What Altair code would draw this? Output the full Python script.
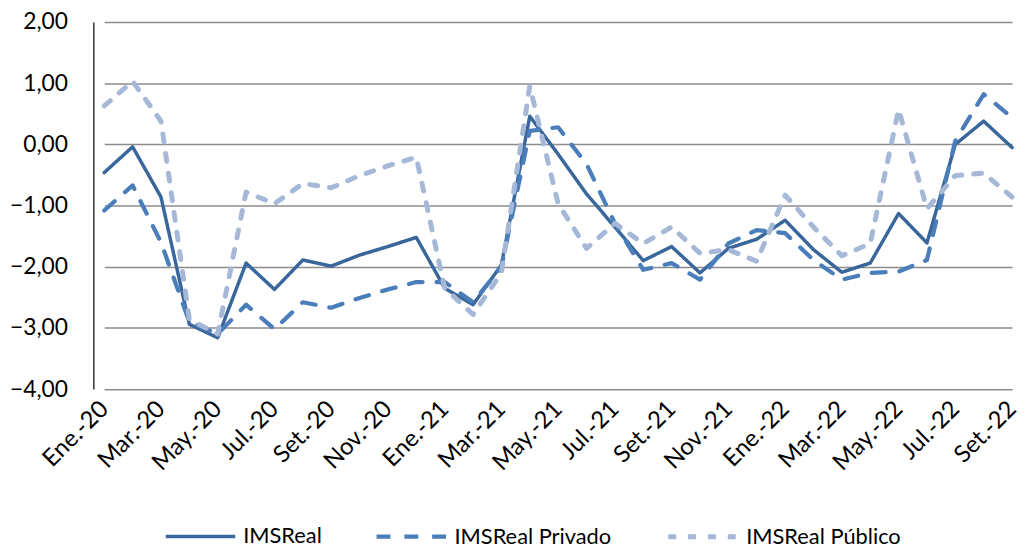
import altair as alt
import pandas as pd

months = ["Ene.", "Feb.", "Mar.", "Abr.", "May.", "Jun.", "Jul.", "Ago.", "Set.", "Oct.", "Nov.", "Dic."]
periods = [f"{m}-{y}" for y in ["20", "21", "22"] for m in months][:33]
tick_labels = periods[::2]

imsreal = [-0.46, -0.04, -0.86, -2.94, -3.16, -1.94, -2.37, -1.89, -1.99, -1.81, -1.67, -1.52,
           -2.35, -2.62, -1.97, 0.46, -0.16, -0.81, -1.35, -1.90, -1.67, -2.10, -1.70, -1.55,
           -1.24, -1.72, -2.09, -1.94, -1.13, -1.61, 0.00, 0.38, -0.05]
privado = [-1.08, -0.67, -1.60, -2.90, -3.10, -2.62, -3.02, -2.58, -2.67, -2.51, -2.37, -2.25,
           -2.25, -2.58, -2.00, 0.22, 0.28, -0.32, -1.29, -2.05, -1.94, -2.21, -1.62, -1.40,
           -1.45, -1.89, -2.21, -2.10, -2.08, -1.89, 0.06, 0.82, 0.44]
publico = [0.63, 1.03, 0.38, -2.86, -3.10, -0.78, -0.97, -0.64, -0.71, -0.51, -0.35, -0.21,
           -2.35, -2.78, -2.10, 0.95, -0.97, -1.70, -1.29, -1.62, -1.35, -1.78, -1.72, -1.91,
           -0.83, -1.35, -1.82, -1.62, 0.57, -1.05, -0.51, -0.47, -0.86]

series = ["IMSReal", "IMSReal Privado", "IMSReal Público"]
values = [imsreal, privado, publico]

rows = []
for s, vals in zip(series, values):
    for p, v in zip(periods, vals):
        rows.append({"periodo": p, "serie": s, "valor": v})
df = pd.DataFrame(rows)

FONT = "Lato"

legend = alt.Legend(
    title=None, orient="none", direction="horizontal",
    legendX=71, legendY=481,
    symbolType="stroke", symbolSize=4900, symbolStrokeWidth=5,
    labelFont=FONT, labelFontSize=22, labelColor="#000000", labelLimit=400,
    columnPadding=46, symbolOffset=0, labelOffset=6,
)

chart = alt.Chart(df).mark_line(strokeCap="round", strokeJoin="round").encode(
    x=alt.X("periodo:N", sort=periods, scale=alt.Scale(type="point", padding=0, range=[11, 926]),
            axis=alt.Axis(title=None, values=tick_labels, labelAngle=-45, labelAlign="right",
                          labelBaseline="middle", labelPadding=16, ticks=False,
                          domainColor="#888888", domainWidth=1.5,
                          labelFont=FONT, labelFontSize=24, labelColor="#000000", grid=False)),
    y=alt.Y("valor:Q", scale=alt.Scale(domain=[-4, 2], nice=False, zero=False),
            axis=alt.Axis(title=None, values=[-4, -3, -2, -1, 0, 1, 2],
                          labelExpr="replace(format(datum.value, '.2f'), '.', ',')",
                          ticks=False, labelPadding=26, domainColor="#333333", domainWidth=1.5,
                          gridColor="#8c8c8c", gridWidth=1.5,
                          labelFont=FONT, labelFontSize=23, labelColor="#000000")),
    color=alt.Color("serie:N", scale=alt.Scale(domain=series, range=["#3A679B", "#4A7EBB", "#A6B8D7"]),
                    legend=legend),
    strokeDash=alt.StrokeDash("serie:N", scale=alt.Scale(domain=series, range=[[1, 0], [14, 14], [8, 12]]),
                              legend=legend),
    strokeWidth=alt.StrokeWidth("serie:N", scale=alt.Scale(domain=series, range=[3.5, 5, 5]), legend=None),
).properties(
    width=929, height=370,
    padding={"left": 86, "top": 12, "right": 3, "bottom": 159},
    autosize="none",
).configure_view(stroke=None)

chart.save("out.html", embed_options={"renderer": "svg", "actions": False})
